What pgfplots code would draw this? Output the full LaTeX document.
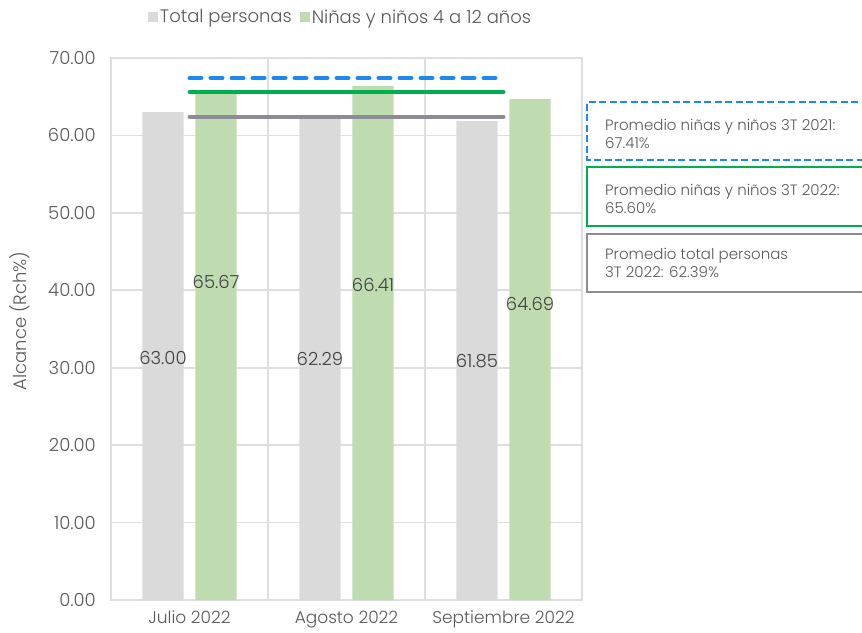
\documentclass[border=0pt]{standalone}
\usepackage{pgfplots}
\pgfplotsset{compat=1.18}
\usepackage{pgfplotstable}
\usepackage{fontspec}
\setmainfont{Poppins}[UprightFont={* Light}]

\definecolor{barGray}{RGB}{218,218,218}
\definecolor{barGreen}{RGB}{191,220,177}
\definecolor{avgBlue}{RGB}{30,136,240}
\definecolor{avgGreen}{RGB}{0,176,80}
\definecolor{avgGray}{RGB}{140,140,150}
\definecolor{gridGray}{RGB}{222,222,222}
\definecolor{txtGray}{RGB}{89,89,89}
\definecolor{lblGray}{RGB}{64,64,64}

% bars: categories at 0,1,2, each pair shifted by 0.169
\pgfplotstableread{
x       y
-0.169  63.00
0.831   62.29
1.831   61.85
}\totales
\pgfplotstableread{
x       y
0.169   65.67
1.169   66.41
2.169   64.69
}\ninos
% where Excel put the value labels
\pgfplotstableread{
x       ly    lab
-0.169  31.3  63.00
0.831   31.1  62.29
1.831   30.9  61.85
0.169   41.1  65.67
1.169   40.7  66.41
2.169   38.2  64.69
}\etiquetas

\begin{document}
\begin{tikzpicture}
\useasboundingbox (0pt,0pt) rectangle (862pt,632pt);
\begin{axis}[
    at={(111pt,32pt)}, anchor=south west,
    scale only axis, width=471pt, height=542pt,
    xmin=-0.5, xmax=2.5, ymin=0, ymax=70,
    xtick={0,1,2},
    xticklabels={Julio 2022, Agosto 2022, Septiembre 2022},
    minor xtick={0.5,1.5},
    xminorgrids, ymajorgrids,
    ytick distance=10,
    major tick length=0pt, minor tick length=0pt,
    grid style={gridGray, line width=1.6pt},
    minor grid style={gridGray, line width=1.6pt},
    axis line style={gridGray, line width=1.6pt},
    yticklabel={\pgfmathprintnumber[fixed,fixed zerofill,precision=2]{\tick}},
    /pgf/number format/assume math mode=true,
    tick label style={font=\fontsize{18}{20}\selectfont, text=txtGray},
    y tick label style={inner sep=0pt, xshift=-15pt},
    x tick label style={inner sep=0pt, yshift=-11pt, font=\fontsize{17}{19}\selectfont},
    ylabel={Alcance (Rch\%)},
    ylabel style={at={(axis description cs:-0.193,0.515)}, anchor=center,
        font=\fontsize{18}{20}\selectfont, text=txtGray},
    legend style={at={(0.5,1)}, anchor=center, xshift=-6pt, yshift=41pt,
        draw=none, fill=none, font=\fontsize{18}{20}\selectfont, text=txtGray,
        legend columns=2, inner sep=0pt,
        /tikz/every even column/.append style={column sep=6pt}},
    legend image code/.code={\fill[#1] (0pt,-5pt) rectangle (10pt,5pt);},
    clip=false,
]
\addplot[ybar, bar width=0.263, bar shift=0pt, fill=barGray, draw=none] table[x=x,y=y] {\totales};
\addlegendentry{Total personas}
\addplot[ybar, bar width=0.263, bar shift=0pt, fill=barGreen, draw=none] table[x=x,y=y] {\ninos};
\addlegendentry{Niñas y niños 4 a 12 años}

% promedios del trimestre
\addplot[forget plot, avgBlue, line width=4pt, line cap=round, dash pattern=on 12pt off 9pt] coordinates {(0,67.41) (2,67.41)};
\addplot[forget plot, avgGreen, line width=4pt, line cap=round] coordinates {(0,65.60) (2,65.60)};
\addplot[forget plot, avgGray, line width=4pt, line cap=round] coordinates {(0,62.39) (2,62.39)};

% value labels
\addplot[forget plot, draw=none, mark=none, nodes near coords, point meta=explicit symbolic,
    nodes near coords align=center,
    every node near coord/.append style={font=\fontsize{18}{20}\selectfont, text=lblGray, anchor=center, inner sep=0pt}]
    table[x=x, y=ly, meta=lab] {\etiquetas};
\end{axis}

% callouts on the right
\begin{scope}[line width=2.4pt]
\draw[avgBlue, dash pattern=on 7pt off 3.5pt] (900pt,530pt) -- (587pt,530pt) -- (587pt,472pt) -- (900pt,472pt);
\draw[avgGreen] (900pt,465pt) -- (587pt,465pt) -- (587pt,406pt) -- (900pt,406pt);
\draw[avgGray] (900pt,398pt) -- (587pt,398pt) -- (587pt,340pt) -- (900pt,340pt);
\end{scope}
\begin{scope}[every node/.style={anchor=west, align=left, text=txtGray, inner sep=0pt,
    font=\fontsize{15}{18}\selectfont}]
\node at (605pt,498pt) {Promedio niñas y niños 3T 2021:\\67.41\%};
\node at (605pt,433pt) {Promedio niñas y niños 3T 2022:\\65.60\%};
\node at (605pt,369pt) {Promedio total personas\\3T 2022: 62.39\%};
\end{scope}
\end{tikzpicture}
\end{document}
